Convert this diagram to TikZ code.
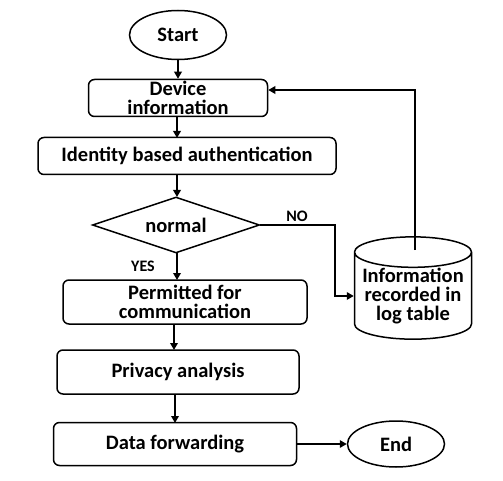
\documentclass[tikz,border=0pt]{standalone}
\usepackage{fontspec}
\setmainfont{Carlito}
\usetikzlibrary{shapes.geometric,arrows.meta}
\begin{document}
\begin{tikzpicture}[x=1pt,y=-1pt,
  every node/.style={font=\bfseries\fontsize{20.5}{19}\selectfont, align=center, inner sep=0pt},
  procbox/.style={draw, line width=1.5pt, rounded corners=6pt},
  term/.style={draw, ellipse, line width=1.5pt},
  dec/.style={draw, diamond, line width=1.5pt},
  store/.style={draw, cylinder, shape border rotate=90, aspect=0.3, line width=1.5pt},
  conn/.style={line width=2.2pt, -{Triangle[length=7pt,width=7.5pt]}},
  lbl/.style={font=\bfseries\fontsize{16}{18}\selectfont}]
\useasboundingbox (0,0) rectangle (503,481);
\node[term, minimum width=97pt, minimum height=49pt] (start) at (178,35) {Start};
\node[procbox, minimum width=179pt, minimum height=37pt] (dev) at (178,98) {Device\\information};
\node[procbox, minimum width=298pt, minimum height=37pt] (ida) at (187,156) {Identity based authentication};
\node[dec, minimum width=167pt, minimum height=56pt, aspect=3] (norm) at (176,225) {normal};
\node[procbox, minimum width=244pt, minimum height=44pt] (perm) at (185,302) {Permitted for\\communication};
\node[procbox, minimum width=242pt, minimum height=44pt] (priv) at (178,372) {Privacy analysis};
\node[procbox, minimum width=243pt, minimum height=43pt] (fwd) at (175,444) {Data forwarding};
\node[term, minimum width=97pt, minimum height=46pt] (end) at (396,444) {End};
\node[store, minimum width=117pt, minimum height=92pt] (log) at (413,296) {Information\\recorded in\\log table};
\node[lbl] (no) at (297,216) {NO};
\node[lbl] (yes) at (143,266) {YES};
\coordinate (fbtop) at (415,90);
\coordinate (nocorner) at (335,225);
\draw[conn] (start.south) -- (start.south |- dev.north);
\draw[conn] (177,117) -- (177,138);
\draw[conn] (177,175) -- (177,197);
\draw[conn] (177,253) -- (177,280);
\draw[conn] (174,324) -- (174,350);
\draw[conn] (175,394) -- (175,423);
\draw[conn] (fwd.east) -- (end.west);
\draw[conn] (norm.east) -- (nocorner) |- (log.west);
\draw[conn] (415,250) -- (fbtop) -- (dev.east |- fbtop);
\end{tikzpicture}
\end{document}
